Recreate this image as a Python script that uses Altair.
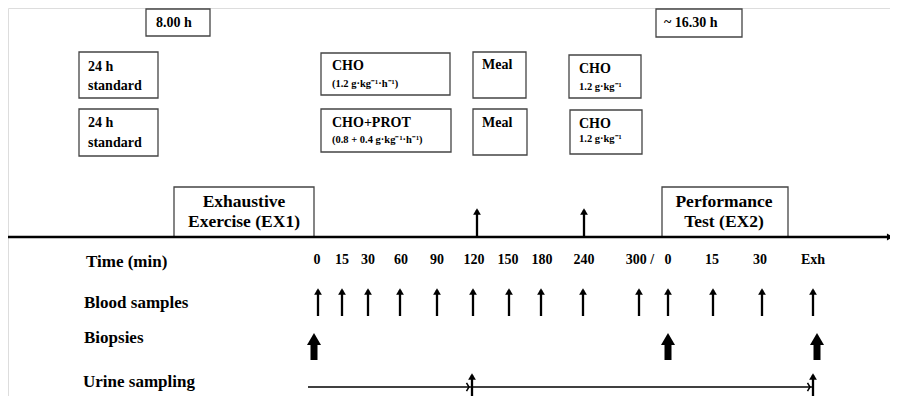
import altair as alt
import pandas as pd

W, H = 882, 388
FONT = "Liberation Serif"

# ---- boxes (diagram coordinates, px of the 898x404 figure) ----
box_x1 = [146, 656, 79, 79, 321, 321, 473, 473, 569, 570, 174, 662]
box_x2 = [210, 742, 158, 158, 450, 451, 526, 527, 641, 642, 314, 788]
box_y1 = [9, 9, 52, 109, 53, 109, 52, 109, 55, 110, 187, 187]
box_y2 = [36, 37, 98, 156, 95, 152, 98, 155, 98, 154, 237, 237]

# ---- left aligned texts inside boxes ----
lt_text = ["8.00 h", "~ 16.30 h", "24 h", "standard", "24 h", "standard",
           "CHO", "CHO+PROT", "Meal", "Meal", "CHO", "CHO"]
lt_x = [156, 664, 88, 88, 88, 88, 332, 332, 482, 482, 579, 579]
lt_y = [23, 23, 67, 86, 123, 143, 66, 123, 65, 123, 69, 124]

sub_text = ["(1.2 g·kg⁻¹·h⁻¹)", "(0.8 + 0.4 g·kg⁻¹·h⁻¹)", "1.2 g·kg⁻¹", "1.2 g·kg⁻¹"]
sub_x = [332, 332, 579, 579]
sub_y = [84, 140, 87, 139]

ex_text = ["Exhaustive", "Exercise (EX1)", "Performance", "Test (EX2)"]
ex_x = [244, 244, 724, 724]
ex_y = [202, 222, 202, 222]

row_text = ["Time (min)", "Blood samples", "Biopsies", "Urine sampling"]
row_x = [86, 84, 84, 83]
row_y = [262, 303, 338, 382]

time_labels = ["0", "15", "30", "60", "90", "120", "150", "180", "240", "300 /", "0", "15", "30", "Exh"]
time_x = [317, 342, 368, 401, 437, 474, 508, 542, 584, 640, 668, 712, 760, 813]
TIME_Y = 260

blood_x = [318, 342, 368, 400, 437, 473, 509, 541, 583, 639, 668, 713, 762, 813]
biopsy_x = [314, 668, 817]
meal_arrow_x = [477, 584]
urine_marks_x = [472, 813]
urine_start = 308

AXIS_Y = 237

def X(f="x"):
    return alt.X(f"{f}:Q", scale=alt.Scale(domain=[8, 8 + W]), axis=None)

def X2(f="x2"):
    return alt.X2(f"{f}:Q")

def Y(f="y"):
    return alt.Y(f"{f}:Q", scale=alt.Scale(domain=[8 + H, 8]), axis=None)

def Y2(f="y2"):
    return alt.Y2(f"{f}:Q")

layers = []

# boxes
boxes = pd.DataFrame({"x": box_x1, "x2": box_x2, "y": box_y1, "y2": box_y2})
layers.append(alt.Chart(boxes).mark_rect(fill="white", stroke="#444", strokeWidth=1.3)
              .encode(x=X(), x2=X2(), y=Y(), y2=Y2()))

# main timeline
axis_df = pd.DataFrame({"x": [0], "x2": [890], "y": [AXIS_Y]})
layers.append(alt.Chart(axis_df).mark_rule(color="black", strokeWidth=2.5)
              .encode(x=X(), x2=X2(), y=Y()))
layers.append(alt.Chart(pd.DataFrame({"x": [890], "y": [AXIS_Y]}))
              .mark_point(shape="triangle-right", filled=True, color="black", size=50, opacity=1)
              .encode(x=X(), y=Y()))

# thin vertical arrows: meal arrows, blood samples, urine marks
thin = pd.DataFrame({
    "x": meal_arrow_x + blood_x + urine_marks_x,
    "y": [210] * len(meal_arrow_x) + [290] * len(blood_x) + [375] * len(urine_marks_x),
    "yh": [211.5] * len(meal_arrow_x) + [291.5] * len(blood_x) + [376.5] * len(urine_marks_x),
    "y2": [AXIS_Y] * len(meal_arrow_x) + [316] * len(blood_x) + [402] * len(urine_marks_x),
})
layers.append(alt.Chart(thin).mark_rule(color="black", strokeWidth=2.3)
              .encode(x=X(), y=Y(), y2=Y2()))
layers.append(alt.Chart(thin).mark_point(shape="triangle-up", filled=True, color="black",
                                         size=60, opacity=1)
              .encode(x=X(), y=Y("yh")))

# biopsy thick arrows
bio = pd.DataFrame({"x": biopsy_x, "y": [343] * 3, "y2": [360] * 3, "yh": [339] * 3})
layers.append(alt.Chart(bio).mark_rule(color="black", strokeWidth=7)
              .encode(x=X(), y=Y(), y2=Y2()))
layers.append(alt.Chart(bio).mark_point(shape="triangle-up", filled=True, color="black",
                                        size=196, opacity=1)
              .encode(x=X(), y=Y("yh")))

# urine horizontal lines with open arrowheads
ur = pd.DataFrame({"x": [urine_start, urine_marks_x[0]], "x2": urine_marks_x,
                   "xh": [urine_marks_x[0] - 3, urine_marks_x[1] - 3], "y": [387, 387]})
layers.append(alt.Chart(ur).mark_rule(color="black", strokeWidth=1.5)
              .encode(x=X(), x2=X2(), y=Y()))
layers.append(alt.Chart(ur).mark_point(shape="M-0.6,-1L0,0L-0.6,1", filled=False, color="black",
                                       size=70, strokeWidth=1.5, opacity=1)
              .encode(x=X("xh"), y=Y()))

# texts
def text_layer(tx, xs, ys, size, align):
    df = pd.DataFrame({"t": tx, "x": xs, "y": ys})
    return (alt.Chart(df).mark_text(font=FONT, fontWeight="bold", fontSize=size, align=align,
                                    baseline="middle", color="black")
            .encode(x=X(), y=Y(), text="t:N"))

layers.append(text_layer(lt_text, lt_x, lt_y, 14, "left"))
layers.append(text_layer(sub_text, sub_x, sub_y, 10.5, "left"))
layers.append(text_layer(ex_text, ex_x, ex_y, 17.5, "center"))
layers.append(text_layer(row_text, row_x, row_y, 17, "left"))
layers.append(text_layer(time_labels, time_x, [TIME_Y] * len(time_x), 14, "center"))

chart = (alt.layer(*layers)
         .properties(width=W, height=H, autosize=alt.AutoSizeParams(type="none"), padding=0)
         .configure_view(stroke=None)
         .configure_text(font=FONT)
         .configure(background="white", font=FONT))

chart.save("out.html", embed_options={"renderer": "svg", "actions": False})
